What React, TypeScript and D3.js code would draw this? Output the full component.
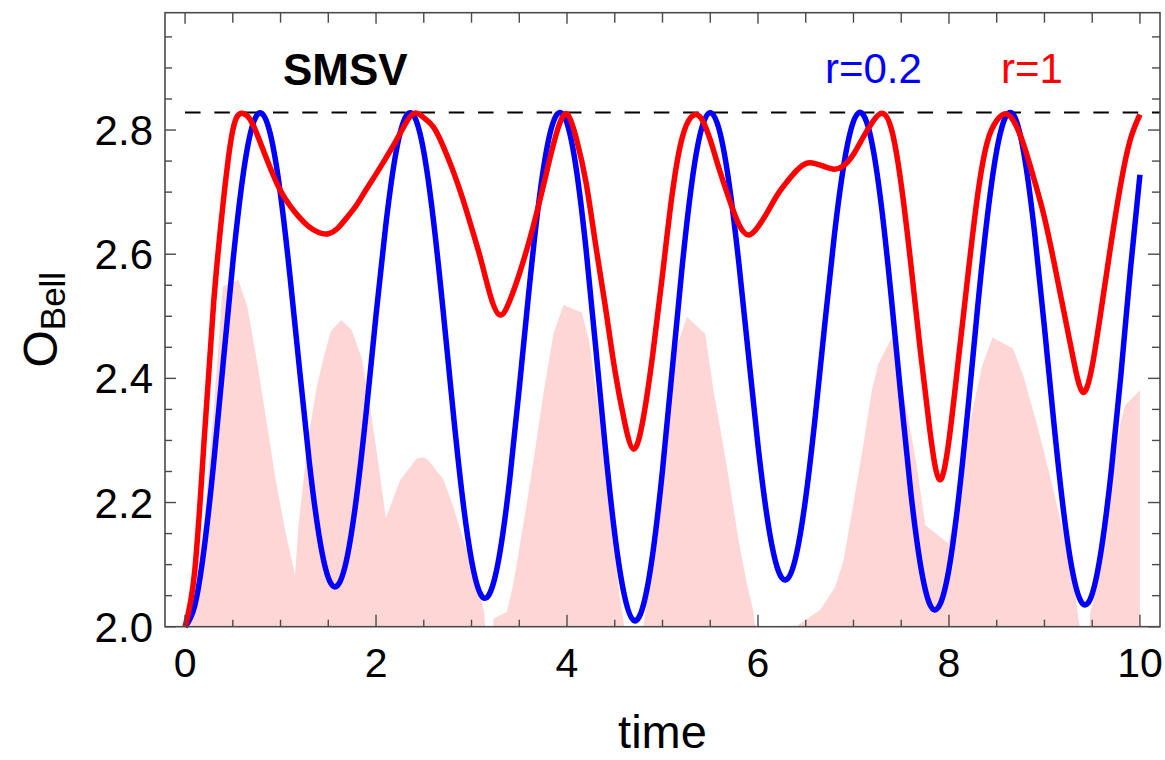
import React from 'react';
import * as d3 from 'd3';

const W = 1165;
const H = 760;

// time grid (step 0.1) shared by both series
const timeGrid: number[] = d3.range(101).map((i) => i / 10);

// r = 0.2 (blue)
const blueR02: number[] = [
  2.000, 2.033, 2.126, 2.264, 2.426, 2.586, 2.719, 2.804, 2.827, 2.789,
  2.696, 2.563, 2.413, 2.267, 2.150, 2.079, 2.067, 2.114, 2.214, 2.350,
  2.502, 2.644, 2.756, 2.818, 2.822, 2.765, 2.656, 2.513, 2.358, 2.215,
  2.107, 2.051, 2.057, 2.122, 2.237, 2.384, 2.539, 2.678, 2.779, 2.826,
  2.811, 2.734, 2.607, 2.451, 2.290, 2.149, 2.051, 2.010, 2.035, 2.120,
  2.252, 2.411, 2.571, 2.707, 2.797, 2.828, 2.797, 2.711, 2.585, 2.438,
  2.292, 2.172, 2.096, 2.076, 2.115, 2.208, 2.339, 2.488, 2.631, 2.745,
  2.814, 2.825, 2.774, 2.668, 2.524, 2.366, 2.217, 2.101, 2.036, 2.034,
  2.093, 2.206, 2.353, 2.514, 2.658, 2.767, 2.823, 2.817, 2.748, 2.630,
  2.482, 2.326, 2.186, 2.084, 2.037, 2.053, 2.129, 2.251, 2.405, 2.575,
  2.728,
];

// r = 1 (red)
const redR1: number[] = [
  2.000, 2.088, 2.301, 2.523, 2.684, 2.800, 2.827, 2.812, 2.775, 2.736,
  2.702, 2.678, 2.659, 2.644, 2.635, 2.633, 2.642, 2.660, 2.680, 2.705,
  2.729, 2.754, 2.780, 2.808, 2.827, 2.820, 2.805, 2.775, 2.737, 2.693,
  2.643, 2.590, 2.532, 2.502, 2.525, 2.568, 2.619, 2.677, 2.741, 2.800,
  2.826, 2.785, 2.715, 2.615, 2.517, 2.414, 2.332, 2.286, 2.337, 2.441,
  2.567, 2.695, 2.784, 2.821, 2.820, 2.784, 2.734, 2.688, 2.648, 2.631,
  2.644, 2.668, 2.695, 2.716, 2.734, 2.746, 2.746, 2.741, 2.737, 2.743,
  2.761, 2.788, 2.813, 2.827, 2.800, 2.712, 2.585, 2.445, 2.316, 2.237,
  2.300, 2.432, 2.568, 2.695, 2.780, 2.815, 2.826, 2.808, 2.768, 2.716,
  2.659, 2.587, 2.510, 2.433, 2.378, 2.420, 2.517, 2.620, 2.714, 2.785,
  2.825,
];

// shaded (pink) band: vertex times and values
const shadeT: number[] = [
  0.0, 0.1, 0.2, 0.3, 0.395, 0.558, 0.653, 0.751, 0.856, 0.943,
  1.047, 1.152, 1.187, 1.275, 1.327, 1.38, 1.449, 1.526, 1.634, 1.746,
  1.851, 1.938, 2.025, 2.102, 2.147, 2.252, 2.427, 2.496, 2.548, 2.706,
  2.81, 2.915, 3.038, 3.132, 3.142, 3.229, 3.229, 3.37, 3.439, 3.579,
  3.666, 3.753, 3.858, 3.963, 4.155, 4.235, 4.32, 4.4, 4.48, 4.56,
  4.6, 4.8, 4.86, 4.94, 5.01, 5.045, 5.15, 5.255, 5.447, 5.534,
  5.674, 5.796, 5.883, 5.953, 5.97, 6.4, 6.442, 6.651, 6.808, 6.896,
  7.0, 7.105, 7.193, 7.262, 7.402, 7.489, 7.58, 7.664, 7.751, 7.995,
  8.118, 8.24, 8.345, 8.456, 8.67, 8.781, 8.92, 9.06, 9.2, 9.305,
  9.357, 9.37, 9.47, 9.479, 9.56, 9.65, 9.74, 9.794, 9.846, 10.0,
  10.0,
];
const shadeV: number[] = [
  2.0, 2.06, 2.17, 2.35, 2.548, 2.559, 2.515, 2.429, 2.328, 2.242,
  2.156, 2.083, 2.161, 2.285, 2.338, 2.387, 2.432, 2.476, 2.494, 2.478,
  2.432, 2.354, 2.263, 2.175, 2.193, 2.236, 2.271, 2.273, 2.268, 2.237,
  2.193, 2.14, 2.083, 2.024, 2.0, 2.0, 2.013, 2.024, 2.07, 2.199,
  2.285, 2.376, 2.472, 2.518, 2.506, 2.458, 2.36, 2.252, 2.14, 2.04,
  2.0, 2.0, 2.07, 2.17, 2.252, 2.311, 2.452, 2.499, 2.472, 2.381,
  2.258, 2.14, 2.07, 2.024, 2.0, 2.0, 2.005, 2.027, 2.064, 2.107,
  2.199, 2.295, 2.381, 2.424, 2.466, 2.403, 2.33, 2.258, 2.164, 2.134,
  2.231, 2.344, 2.419, 2.466, 2.448, 2.403, 2.327, 2.242, 2.15, 2.081,
  2.011, 2.0, 2.0, 2.022, 2.07, 2.16, 2.27, 2.327, 2.357, 2.381,
  2.0,
];

const bellBound = 2.8284;
const xMajor: number[] = [0, 2, 4, 6, 8, 10];
const xMinor: number[] = d3.range(21).map((i) => i * 0.5).filter((v) => v % 2 !== 0);
const yMajor: number[] = [2.0, 2.2, 2.4, 2.6, 2.8];
const yMinor: number[] = d3.range(20).map((i) => 2 + i * 0.05).filter((v) => Math.abs(Math.round(v * 5) - v * 5) > 1e-6);
const yMajorLabels: string[] = ['2.0', '2.2', '2.4', '2.6', '2.8'];

const L = 165, R = 1160, T = 12.7, B = 626.7;
const FONT = "'Liberation Sans', Arial, Helvetica, sans-serif";

export default function App() {
  const x = d3.scaleLinear().domain([-0.21, 10.21]).range([L, R]);
  const y = d3.scaleLinear().domain([2.0, 2.989]).range([B, T]);

  const line = d3
    .line<number>()
    .x((_, i) => x(timeGrid[i]))
    .y((d) => y(d))
    .curve(d3.curveNatural);

  const area = d3
    .area<number>()
    .x((_, i) => x(shadeT[i]))
    .y0(y(2.0))
    .y1((d) => y(d))
    .curve(d3.curveLinear);

  const axisColor = '#4a4a4a';

  return (
    <svg
      width={W}
      height={H}
      style={{ position: 'absolute', left: 0, top: 0, background: '#fff' }}
      fontFamily={FONT}
    >
      <defs>
        <clipPath id="plotClip">
          <rect x={L} y={T} width={R - L} height={B - T + 2} />
        </clipPath>
      </defs>
      <rect x={0} y={0} width={W} height={H} fill="#fff" />

      <g clipPath="url(#plotClip)">
        <path d={area(shadeV) || ''} fill="#ffd6d6" stroke="none" />
        <line
          x1={x(0)}
          x2={R}
          y1={y(bellBound)}
          y2={y(bellBound)}
          stroke="#000"
          strokeWidth={2}
          strokeDasharray="15.5,13.8"
        />
        <path d={line(blueR02) || ''} fill="none" stroke="#0000ff" strokeWidth={5.5} strokeLinejoin="round" />
        <path d={line(redR1) || ''} fill="none" stroke="#ff0000" strokeWidth={5.5} strokeLinejoin="round" />
      </g>

      {/* frame */}
      <rect x={L} y={T} width={R - L} height={B - T} fill="none" stroke={axisColor} strokeWidth={1.6} />

      {/* x ticks */}
      {xMajor.map((v) => (
        <g key={'xM' + v}>
          <line x1={x(v)} x2={x(v)} y1={B} y2={B - 12} stroke={axisColor} strokeWidth={1.4} />
          <line x1={x(v)} x2={x(v)} y1={T} y2={T + 11} stroke={axisColor} strokeWidth={1.4} />
          <text x={x(v)} y={677} textAnchor="middle" fontSize={41} fill="#000">
            {String(v)}
          </text>
        </g>
      ))}
      {xMinor.map((v) => (
        <g key={'xm' + v}>
          <line x1={x(v)} x2={x(v)} y1={B} y2={B - 7} stroke={axisColor} strokeWidth={1.4} />
          <line x1={x(v)} x2={x(v)} y1={T} y2={T + 10} stroke={axisColor} strokeWidth={1.4} />
        </g>
      ))}

      {/* y ticks */}
      {yMajor.map((v, i) => (
        <g key={'yM' + v}>
          <line x1={L} x2={L + 11} y1={y(v)} y2={y(v)} stroke={axisColor} strokeWidth={1.4} />
          <line x1={R} x2={R - 12} y1={y(v)} y2={y(v)} stroke={axisColor} strokeWidth={1.4} />
          <text x={153} y={y(v) + 15} textAnchor="end" fontSize={42} fill="#000">
            {yMajorLabels[i]}
          </text>
        </g>
      ))}
      {yMinor.map((v) => (
        <g key={'ym' + v.toFixed(2)}>
          <line x1={L} x2={L + 7} y1={y(v)} y2={y(v)} stroke={axisColor} strokeWidth={1.4} />
          <line x1={R} x2={R - 8} y1={y(v)} y2={y(v)} stroke={axisColor} strokeWidth={1.4} />
        </g>
      ))}

      {/* axis labels */}
      <text x={(L + R) / 2} y={748} textAnchor="middle" fontSize={47} fill="#000">
        time
      </text>
      <text transform={`translate(57, ${(T + B) / 2}) rotate(-90)`} textAnchor="middle" fontSize={48} fill="#000">
        <tspan>O</tspan>
        <tspan fontSize={35} dy={8}>Bell</tspan>
      </text>

      {/* annotations */}
      <text x={283} y={85} fontSize={44} fontWeight="bold" fill="#000">
        SMSV
      </text>
      <text x={825} y={83} fontSize={42} fill="#0000ff">
        r=0.2
      </text>
      <text x={1001} y={83} fontSize={42} fill="#ff0000">
        r=1
      </text>
    </svg>
  );
}
